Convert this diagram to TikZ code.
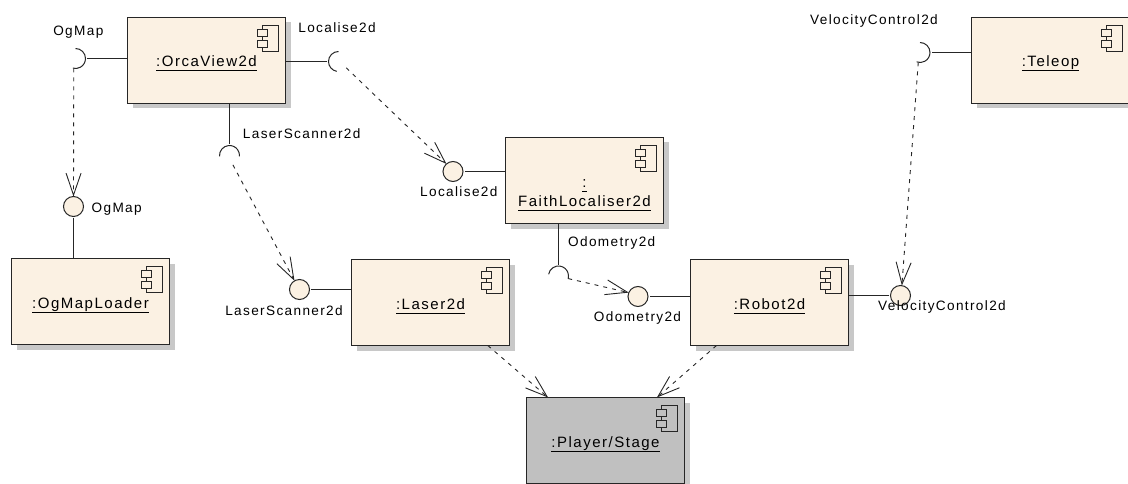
\documentclass[tikz,border=0pt]{standalone}
\usepackage{fontspec}
\setmainfont{Liberation Sans}[LetterSpace=10]
\usetikzlibrary{arrows.meta,shadows}
\definecolor{compfill}{HTML}{FBF1E3}
\definecolor{stagefill}{HTML}{C0C0C0}
\definecolor{shadowgray}{HTML}{C8C8C8}
\definecolor{inkline}{HTML}{262626}
\newcommand{\compname}[1]{\setbox0=\hbox{#1}\rule{0pt}{13pt}\smash{\rlap{\rule[-4.5pt]{\wd0}{1pt}}\box0}}
\begin{document}
\begin{tikzpicture}[
    x=1pt,
    y=-1pt,
    font=\fontsize{13.6}{19}\selectfont,
    comp/.style={
        rectangle,
        draw=inkline,
        line width=1.5pt,
        fill=compfill,
        minimum width=158pt,
        minimum height=86pt,
        outer sep=0pt,
        align=center,
        font=\fontsize{15}{19}\selectfont,
        drop shadow={shadow xshift=5pt, shadow yshift=-5pt, fill=shadowgray, opacity=1}
    },
    provided/.style={
        circle,
        draw=inkline,
        line width=1pt,
        fill=compfill,
        inner sep=0pt,
        outer sep=0pt,
        minimum size=20pt
    },
    socket/.style={
        circle,
        inner sep=0pt,
        outer sep=0pt,
        minimum size=20pt
    },
    socketarc/.style={draw=inkline, line width=1pt},
    wire/.style={draw=inkline, line width=1.3pt, shorten >=1.5pt},
    depends/.style={
        draw=inkline,
        line width=0.9pt,
        dash pattern=on 4pt off 5pt,
        -{Straight Barb[length=22pt,width=15pt]}
    },
    pics/compicon/.style={
        code={
            \draw[inkline, line width=0.9pt] (-23.5,7.5) rectangle (-7.5,33.5);
            \draw[inkline, line width=0.9pt, fill=#1] (-28.5,11.5) rectangle (-18.5,18.5);
            \draw[inkline, line width=0.9pt, fill=#1] (-28.5,22.5) rectangle (-18.5,29.5);
        }
    }
]
\useasboundingbox (0,0) rectangle (1128,484);

% Components
\node[comp] (orcaview) at (206.5,60.5) {\compname{:OrcaView2d}};
\node[comp] (teleop) at (1050.5,60.5) {\compname{:Teleop}};
\node[comp] (faithloc) at (584.5,180.5) {\rule{0pt}{14pt}\\\compname{:}\\\compname{FaithLocaliser2d}};
\node[comp] (ogmaploader) at (90.5,301.5) {\compname{:OgMapLoader}};
\node[comp] (laser) at (430.5,302.5) {\compname{:Laser2d}};
\node[comp] (robot) at (769.5,302.5) {\compname{:Robot2d}};
\node[comp, fill=stagefill] (playerstage) at (605.5,440.5) {\compname{:Player/Stage}};

% Component icons
\foreach \comp/\tabfill in {orcaview/compfill, teleop/compfill, faithloc/compfill,
    ogmaploader/compfill, laser/compfill, robot/compfill, playerstage/stagefill}
    \pic at (\comp.north east) {compicon=\tabfill};

% Provided interfaces
\node[provided] (ogmapprov) at (73.5,206.5) {};
\node[provided] (localiseprov) at (453,171.5) {};
\node[provided] (laserprov) at (299.5,289.5) {};
\node[provided] (odomprov) at (638,296.5) {};
\node[provided] (velocityprov) at (900.5,295.5) {};

% Required interfaces
\node[socket] (ogmapreq) at (75.5,58.5) {};
\node[socket] (localisereq) at (338.5,61.5) {};
\node[socket] (laserreq) at (229.5,155.5) {};
\node[socket] (odomreq) at (558.5,276) {};
\node[socket] (velocityreq) at (920,52.5) {};
\draw[socketarc] (ogmapreq.90) arc[start angle=90, end angle=-105, radius=10pt];
\draw[socketarc] (localisereq.90) arc[start angle=90, end angle=260, radius=10pt];
\draw[socketarc] (laserreq.185) arc[start angle=185, end angle=-5, radius=10pt];
\draw[socketarc] (odomreq.170) arc[start angle=170, end angle=-15, radius=10pt];
\draw[socketarc] (velocityreq.90) arc[start angle=90, end angle=-110, radius=10pt];

% Labels
\node (ogmaplabel) at (78.3,32) {OgMap};
\node (localiselabel) at (337,27.5) {Localise2d};
\node (laserlabel) at (301.7,133.5) {LaserScanner2d};
\node (ogmapprovlabel) at (116.7,208.7) {OgMap};
\node (localiseprovlabel) at (458.8,192) {Localise2d};
\node (odomlabel) at (611.7,243) {Odometry2d};
\node (odomprovlabel) at (637.5,318) {Odometry2d};
\node (laserprovlabel) at (284,310.7) {LaserScanner2d};
\node (velocitylabel) at (874,20.7) {VelocityControl2d};
\node (velocityprovlabel) at (942,307) {VelocityControl2d};

% Solid wires
\draw[wire] (orcaview.west |- ogmapreq) -- (ogmapreq.east);
\draw[wire] (orcaview.east |- localisereq) -- (localisereq.west);
\draw[wire] (orcaview.south -| laserreq) -- (laserreq.north);
\draw[wire] (faithloc.south -| odomreq) -- (odomreq.north);
\draw[wire] (teleop.west |- velocityreq) -- (velocityreq.east);
\draw[wire] (ogmaploader.north -| ogmapprov) -- (ogmapprov.south);
\draw[wire] (faithloc.west |- localiseprov) -- (localiseprov.east);
\draw[wire] (laser.west |- laserprov) -- (laserprov.east);
\draw[wire] (robot.west |- odomprov) -- (odomprov.east);
\draw[wire] (robot.east |- velocityprov) -- (velocityprov.west);

% Dependencies
\draw[depends] (ogmapreq.-100) -- (ogmapprov.north);
\draw[depends] (localisereq.-39) -- (localiseprov.131);
\draw[depends] (laserreq.-70) -- (laserprov.120);
\draw[depends] (odomreq.-15) -- (odomprov.157);
\draw[depends] (velocityreq.-100) -- (velocityprov.82);
\draw[depends] ([xshift=-21.7pt]laser.south east) -- ([xshift=21.6pt]playerstage.north west);
\draw[depends] ([xshift=26pt]robot.south west) -- ([xshift=-27.6pt]playerstage.north east);

\end{tikzpicture}
\end{document}
